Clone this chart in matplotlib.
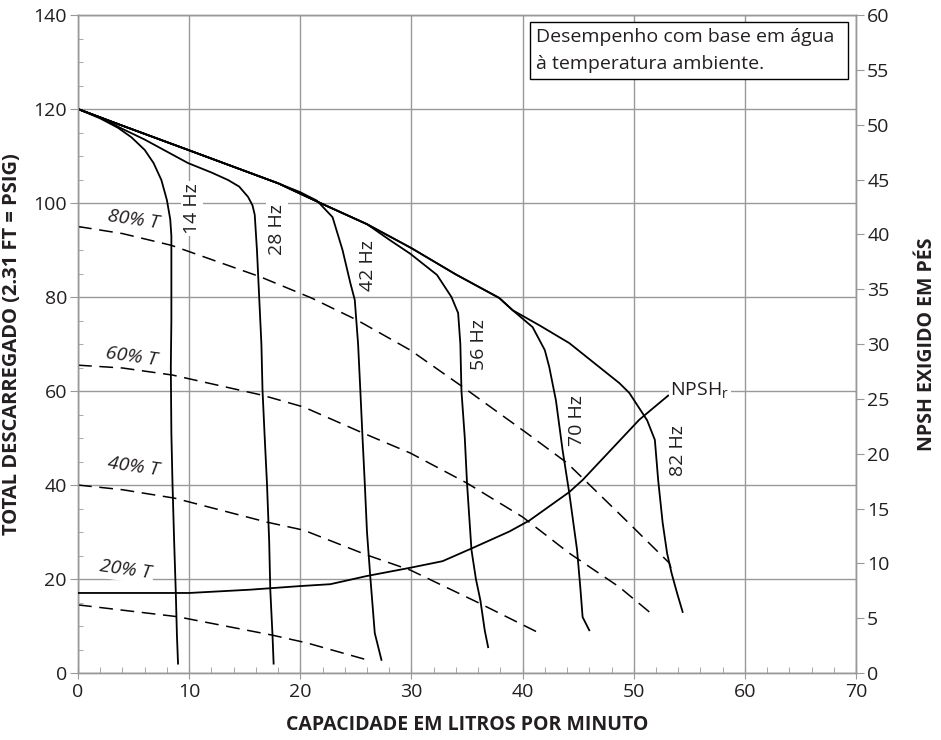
import matplotlib
matplotlib.use('Agg')
import matplotlib.pyplot as plt
from matplotlib.patches import Rectangle
from matplotlib.ticker import MultipleLocator

plt.rcParams['font.family'] = ['Open Sans', 'DejaVu Sans']

# curvas de frequência (capacidade L/min, carga)
hz14_x = [0, 2, 3.6, 4.8, 6.0, 6.8, 7.5, 8.0, 8.3, 8.4, 8.4, 8.4, 8.35, 8.4, 8.5, 8.65, 8.8, 8.9, 9.0]
hz14_y = [120, 118, 116, 114, 111.3, 108.5, 104.9, 100.6, 96.5, 93, 85, 75, 65, 51, 40.4, 28, 17, 8, 2]

hz28_x = [0, 2, 3.8, 6, 9.9, 12, 13.5, 14.5, 15.3, 15.7, 15.9, 16.1, 16.3, 16.5, 16.6, 16.8, 17.0, 17.2, 17.3, 17.5, 17.6]
hz28_y = [120, 118.2, 116, 113.5, 108.5, 106.5, 104.9, 103.5, 101.3, 99.5, 97.5, 90, 80, 70, 60.2, 50, 40.4, 28, 17.7, 8, 2]

hz42_x = [0, 3.6, 9.9, 18, 20, 21.5, 22.9, 23.8, 24.5, 24.9, 25.2, 25.4, 25.6, 25.8, 26.0, 26.3, 26.7, 27.3]
hz42_y = [120, 116.8, 111.3, 104.2, 102.3, 100.5, 97, 90, 83, 79.4, 70, 60.2, 50, 40.4, 30, 20.4, 8.5, 2.8]

hz56_x = [0, 3.6, 9.9, 18, 21.8, 26, 28, 29.9, 32.3, 33.6, 34.2, 34.4, 34.5, 34.8, 35.0, 35.4, 35.8, 36.2, 36.6, 36.9]
hz56_y = [120, 116.8, 111.3, 104.2, 100, 95.5, 92.2, 89.2, 84.7, 80, 76.6, 70, 60, 50, 40.4, 26.2, 20, 15.5, 9, 5.5]

hz70_x = [0, 3.6, 9.9, 18, 21.8, 26, 30, 34, 37.9, 39.1, 40.9, 42, 42.4, 43, 43.6, 44.2, 44.9, 45.2, 45.4, 46]
hz70_y = [120, 116.8, 111.3, 104.2, 100, 95.5, 90.4, 84.8, 79.8, 77.2, 73.6, 68.7, 65.1, 58, 47.4, 38.3, 26.2, 18, 11.9, 9.1]

hz82_x = [0, 3.6, 9.9, 18, 21.8, 26, 30, 34, 37.9, 39.1, 41.5, 44.2, 46.9, 48.7, 49.6, 51.2, 51.9, 52.2, 52.6, 53.0, 53.4, 53.9, 54.4]
hz82_y = [120, 116.8, 111.3, 104.2, 100, 95.5, 90.4, 84.8, 79.8, 77.2, 74, 70.2, 65.1, 61.7, 59.6, 53.8, 49.6, 41, 32, 25.5, 21.3, 17, 13]

# curvas de torque (tracejadas)
t80_x = [0, 4, 8.4, 16.4, 21, 25.1, 29.9, 34.6, 40.4, 44, 49, 53.2, 53.4]
t80_y = [95, 93.5, 91, 84.3, 79.8, 75.1, 68.7, 60.9, 51, 44.7, 33.2, 23.4, 22]
t60_x = [0, 4, 8.5, 16.6, 20.3, 25.7, 29.9, 35, 40, 44.2, 48.7, 51.4]
t60_y = [65.5, 64.9, 63.4, 59.1, 56.6, 51, 46.8, 40.4, 33.2, 25.5, 18.3, 13]
t40_x = [0, 4, 8.7, 17, 20.3, 26, 29.9, 35.9, 41.5, 41.7]
t40_y = [40, 39, 37.2, 32.1, 30.4, 25.1, 21.9, 15.1, 8.5, 8.1]
t20_x = [0, 8.9, 17.4, 20.6, 26]
t20_y = [14.5, 12, 8.1, 6.4, 2.8]

# NPSHr (eixo direito, pés)
npsh_x = [0, 10, 15.5, 20, 22.7, 26, 29.9, 32.8, 35.5, 38.8, 40.6, 44.2, 45.4, 50.5, 53.1]
npsh_y = [7.3, 7.3, 7.6, 7.93, 8.1, 8.85, 9.6, 10.2, 11.4, 12.9, 13.9, 16.5, 17.6, 23.1, 25.3]

hz_labels = ['14 Hz', '28 Hz', '42 Hz', '56 Hz', '70 Hz', '82 Hz']
hz_label_pos = [(10.25, 98.9), (17.9, 94.3), (26.1, 86.8), (36.1, 69.8), (44.9, 53.8), (54.0, 47.4)]
t_labels = ['80% T', '60% T', '40% T', '20% T']
t_label_pos = [(5.0, 96.4), (4.8, 67.4), (5.0, 44.0), (4.3, 21.9)]

grid_c = '#999999'
txt_c = '#231f20'

fig = plt.figure(figsize=(9.41, 7.40), dpi=100)
ax = fig.add_axes([0.0829, 0.0905, 0.8268, 0.8892])
ax2 = ax.twinx()

lw = 1.3
for xs, ys in [(hz14_x, hz14_y), (hz28_x, hz28_y), (hz42_x, hz42_y),
               (hz56_x, hz56_y), (hz70_x, hz70_y), (hz82_x, hz82_y)]:
    ax.plot(xs, ys, color='black', lw=lw, zorder=3)

for xs, ys in [(t80_x, t80_y), (t60_x, t60_y), (t40_x, t40_y), (t20_x, t20_y)]:
    ax.plot(xs, ys, color='black', lw=1.1, ls=(0, (9, 5)), zorder=3)

ax2.plot(npsh_x, npsh_y, color='black', lw=lw, zorder=3)

ax.set_xlim(0, 70)
ax.set_ylim(0, 140)
ax2.set_ylim(0, 60)

ax.xaxis.set_major_locator(MultipleLocator(10))
ax.xaxis.set_minor_locator(MultipleLocator(2))
ax.yaxis.set_major_locator(MultipleLocator(20))
ax.yaxis.set_minor_locator(MultipleLocator(5))
ax2.yaxis.set_major_locator(MultipleLocator(5))

ax.grid(True, which='major', color=grid_c, lw=1.0)
ax.set_axisbelow(True)

for a in (ax, ax2):
    for s in a.spines.values():
        s.set_color(grid_c)
        s.set_linewidth(1.0)

ax.tick_params(axis='x', which='major', direction='inout', length=9, color=grid_c,
               labelsize=14, labelcolor=txt_c, pad=3)
ax.tick_params(axis='x', which='minor', direction='in', length=4.5, color=grid_c)
ax.tick_params(axis='y', which='major', direction='out', length=6, color=grid_c,
               labelsize=14, labelcolor=txt_c, pad=2)
ax.tick_params(axis='y', which='minor', direction='in', length=3.5, color=grid_c)
ax2.tick_params(axis='y', which='major', direction='out', length=6, color=grid_c,
                labelsize=14, labelcolor=txt_c, pad=2)

ax.set_xlabel('CAPACIDADE EM LITROS POR MINUTO', fontsize=14, fontweight='bold',
              color=txt_c, labelpad=10)
ax.set_ylabel('TOTAL DESCARREGADO (2.31 FT = PSIG)', fontsize=14.5, fontweight='bold',
              color=txt_c, labelpad=8)
ax2.set_ylabel('NPSH EXIGIDO EM PÉS', fontsize=14, fontweight='bold',
               color=txt_c, labelpad=20)

white = dict(facecolor='white', edgecolor='none', pad=1.5)
for lab, (x, y) in zip(hz_labels, hz_label_pos):
    ax.text(x, y, lab, rotation=90, ha='center', va='center', fontsize=14,
            color=txt_c, bbox=white, zorder=4)
for lab, (x, y) in zip(t_labels, t_label_pos):
    ax.text(x, y, lab, rotation=-8, ha='center', va='center', fontsize=14,
            style='italic', color=txt_c, bbox=white, zorder=4)

ax2.text(53.3, 25.7, r'NPSH$_\mathregular{r}$', ha='left', va='center', fontsize=14,
         color=txt_c, bbox=dict(facecolor='white', edgecolor='none', pad=1), zorder=4)

ax2.add_patch(Rectangle((0.581, 0.903), 0.409, 0.086, transform=ax.transAxes,
                        facecolor='white', edgecolor='black', lw=1.0, zorder=5))
ax2.text(0.589, 0.967, 'Desempenho com base em água', transform=ax.transAxes,
         ha='left', va='center', fontsize=14, color=txt_c, zorder=6)
ax2.text(0.589, 0.925, 'à temperatura ambiente.', transform=ax.transAxes,
         ha='left', va='center', fontsize=14, color=txt_c, zorder=6)

fig.savefig('out.png', dpi=100)
